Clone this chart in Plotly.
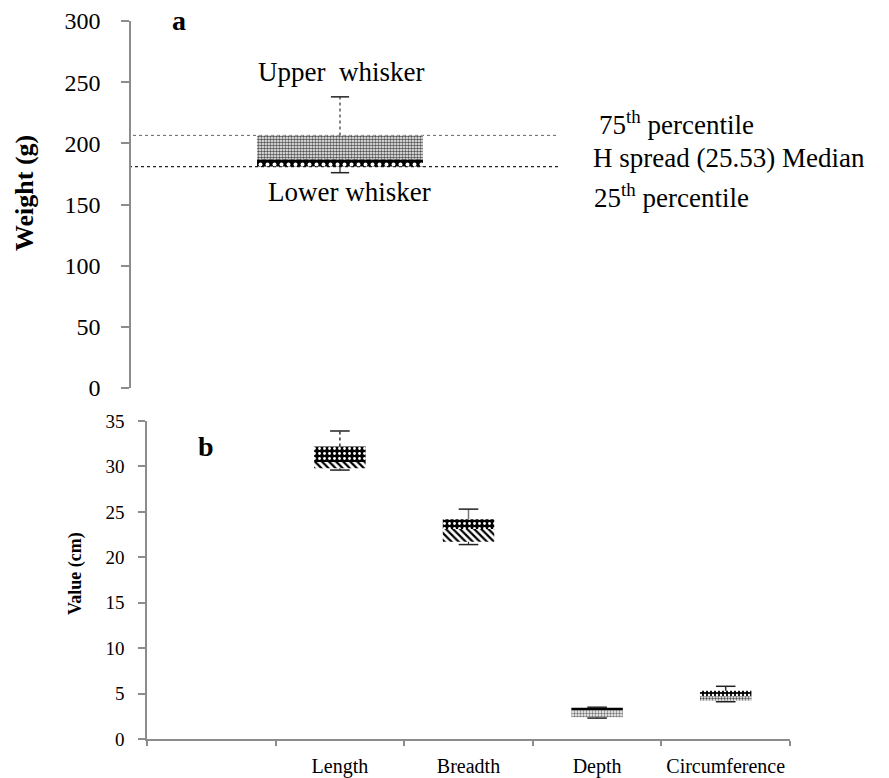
import plotly.graph_objects as go

# ---------------- data ----------------
cat_a = ["Weight"]
a_low = [176.0]
a_q1 = [181.0]
a_med = [187.0]
a_q3 = [206.5]
a_high = [238.0]

cats_b = ["Length", "Breadth", "Depth", "Circumference"]
b_low = [29.6, 21.4, 2.3, 4.1]
b_q1 = [29.8, 21.7, 2.4, 4.2]
b_med = [30.5, 23.1, 3.3, 4.7]
b_q3 = [32.2, 24.2, 3.45, 5.3]
b_high = [33.9, 25.3, 3.5, 5.8]

yticks_a = [0, 50, 100, 150, 200, 250, 300]
yticks_b = [0, 5, 10, 15, 20, 25, 30, 35]

W, H = 889, 778
FONT = "Liberation Serif"


def px(x):
    return x / W


def py(y):
    return 1 - y / H


fig = go.Figure()

# ---------- panel a ----------
fig.add_trace(go.Bar(
    x=cat_a, y=[m - q for m, q in zip(a_med, a_q1)], base=a_q1,
    width=0.397, xaxis="x", yaxis="y",
    marker=dict(color="black", line=dict(width=0),
                pattern=dict(shape=".", fgcolor="white", bgcolor="black",
                             size=7, solidity=0.25, fillmode="replace")),
    showlegend=False, hoverinfo="skip"))
fig.add_trace(go.Bar(
    x=cat_a, y=[q - m for q, m in zip(a_q3, a_med)], base=a_med,
    width=0.397, xaxis="x", yaxis="y",
    marker=dict(color="white", line=dict(width=0),
                pattern=dict(shape=".", fgcolor="#555555", bgcolor="white",
                             size=3, solidity=0.55, fillmode="replace")),
    showlegend=False, hoverinfo="skip"))
# whiskers a
fig.add_trace(go.Scatter(x=[cat_a[0], cat_a[0]], y=[a_q3[0], a_high[0]],
                         mode="lines", line=dict(color="#333", width=1.2, dash="dot"),
                         xaxis="x", yaxis="y", showlegend=False, hoverinfo="skip"))
fig.add_trace(go.Scatter(x=[cat_a[0], cat_a[0]], y=[a_q1[0], a_low[0]],
                         mode="lines", line=dict(color="#222", width=1.2),
                         xaxis="x", yaxis="y", showlegend=False, hoverinfo="skip"))
fig.add_trace(go.Scatter(x=cat_a * 2, y=a_high + a_low, mode="markers",
                         marker=dict(symbol="line-ew", size=13,
                                     line=dict(color="#222", width=1.5)),
                         xaxis="x", yaxis="y", showlegend=False, hoverinfo="skip"))

# ---------- panel b ----------
lower_shapes = ["\\", "\\", ".", "."]
lower_fg = ["black", "black", "#777777", "#555555"]
lower_bg = ["white", "white", "white", "white"]
lower_size = [5, 5, 3, 3]
lower_sol = [0.45, 0.45, 0.5, 0.5]
upper_shapes = [".", ".", "", "."]
upper_fg = ["white", "white", "black", "white"]
upper_bg = ["black", "black", "black", "black"]
upper_size = [5, 5, 5, 4]
upper_sol = [0.25, 0.25, 0.3, 0.3]

fig.add_trace(go.Bar(
    x=cats_b, y=[m - q for m, q in zip(b_med, b_q1)], base=b_q1,
    width=0.4, xaxis="x2", yaxis="y2",
    marker=dict(color="white", line=dict(width=0),
                pattern=dict(shape=lower_shapes, fgcolor=lower_fg, bgcolor=lower_bg,
                             size=lower_size, solidity=lower_sol, fillmode="replace")),
    showlegend=False, hoverinfo="skip"))
fig.add_trace(go.Bar(
    x=cats_b, y=[q - m for q, m in zip(b_q3, b_med)], base=b_med,
    width=0.4, xaxis="x2", yaxis="y2",
    marker=dict(color="black", line=dict(width=0),
                pattern=dict(shape=upper_shapes, fgcolor=upper_fg, bgcolor=upper_bg,
                             size=upper_size, solidity=upper_sol, fillmode="replace")),
    showlegend=False, hoverinfo="skip"))

whisk_dash = ["dot", "solid", "solid", "solid"]
whisk_col = ["#333", "#777", "#333", "#333"]
for i, c in enumerate(cats_b):
    fig.add_trace(go.Scatter(x=[c, c], y=[b_q3[i], b_high[i]], mode="lines",
                             line=dict(color=whisk_col[i], width=1.5, dash=whisk_dash[i]),
                             xaxis="x2", yaxis="y2", showlegend=False, hoverinfo="skip"))
    fig.add_trace(go.Scatter(x=[c, c], y=[b_q1[i], b_low[i]], mode="lines",
                             line=dict(color="#333", width=1.2),
                             xaxis="x2", yaxis="y2", showlegend=False, hoverinfo="skip"))
fig.add_trace(go.Scatter(x=cats_b + cats_b, y=b_high + b_low, mode="markers",
                         marker=dict(symbol="line-ew", size=14,
                                     line=dict(color="#222", width=1.5)),
                         xaxis="x2", yaxis="y2", showlegend=False, hoverinfo="skip"))

# reference dotted lines panel a
fig.add_shape(type="line", xref="paper", yref="y", x0=px(133), x1=px(558),
              y0=a_q3[0], y1=a_q3[0], line=dict(color="#666", width=1, dash="dot"),
              layer="below")
fig.add_shape(type="line", xref="paper", yref="y", x0=px(129), x1=px(558),
              y0=a_q1[0], y1=a_q1[0], line=dict(color="#222", width=1.3, dash="dot"),
              layer="below")

tickfont_a = dict(family=FONT, size=24, color="black")
tickfont_b = dict(family=FONT, size=19, color="black")

fig.update_layout(
    width=W, height=H,
    margin=dict(l=0, r=0, t=0, b=0, autoexpand=False),
    paper_bgcolor="white", plot_bgcolor="white",
    barmode="overlay",
    showlegend=False,
    xaxis=dict(domain=[px(131), px(549)], type="category", categoryarray=cat_a,
               range=[-0.5, 0.5], visible=False, anchor="y", automargin=False),
    yaxis=dict(domain=[py(388), py(21)], range=[0, 300], tickvals=yticks_a,
               showline=True, linecolor="#8c8c8c", linewidth=1.5,
               ticks="outside", ticklen=8, tickcolor="#8c8c8c", tickwidth=1.5,
               showgrid=False, zeroline=False, tickfont=tickfont_a,
               ticklabelstandoff=16, anchor="x", automargin=False),
    xaxis2=dict(domain=[px(147), px(790)], type="category",
                categoryarray=[" "] + cats_b, tickvals=[" "] + cats_b,
                ticktext=[""] + cats_b,
                range=[-0.5, 4.5], tickson="boundaries", tickangle=0,
                showline=True, linecolor="#8c8c8c", linewidth=1.5,
                ticks="outside", ticklen=5, tickcolor="#8c8c8c", tickwidth=1.5,
                showgrid=False, zeroline=False,
                tickfont=dict(family=FONT, size=20, color="black"),
                ticklabelstandoff=8, anchor="y2", automargin=False),
    yaxis2=dict(domain=[py(739), py(421)], range=[0, 35], tickvals=yticks_b,
                showline=True, linecolor="#8c8c8c", linewidth=1.5,
                ticks="outside", ticklen=7, tickcolor="#8c8c8c", tickwidth=1.5,
                showgrid=False, zeroline=False, tickfont=tickfont_b,
                ticklabelstandoff=10, anchor="x2", automargin=False),
)

ann_font = dict(family=FONT, size=27, color="black")
annotations = [
    dict(text="<b>a</b>", x=px(179), y=py(21), font=dict(family=FONT, size=28, color="black")),
    dict(text="<b>b</b>", x=px(206), y=py(447), font=dict(family=FONT, size=28, color="black")),
    dict(text="Upper  whisker", x=px(341), y=py(72), font=ann_font),
    dict(text="Lower whisker", x=px(349), y=py(192), font=ann_font),
    dict(text="75<sup>th</sup> percentile", x=px(676), y=py(123), font=ann_font),
    dict(text="H spread (25.53) Median", x=px(729), y=py(158), font=ann_font),
    dict(text="25<sup>th</sup> percentile", x=px(671), y=py(196), font=ann_font),
    dict(text="<b>Weight (g)</b>", x=px(25), y=py(193), textangle=-90,
         font=dict(family=FONT, size=26, color="black")),
    dict(text="<b>Value (cm)</b>", x=px(75), y=py(574), textangle=-90,
         font=dict(family=FONT, size=18, color="black")),
]
for a in annotations:
    fig.add_annotation(xref="paper", yref="paper", showarrow=False,
                       xanchor="center", yanchor="middle", **a)

fig.write_html("out.html", config={"displayModeBar": False},
               post_script="document.body.style.margin='0';")
